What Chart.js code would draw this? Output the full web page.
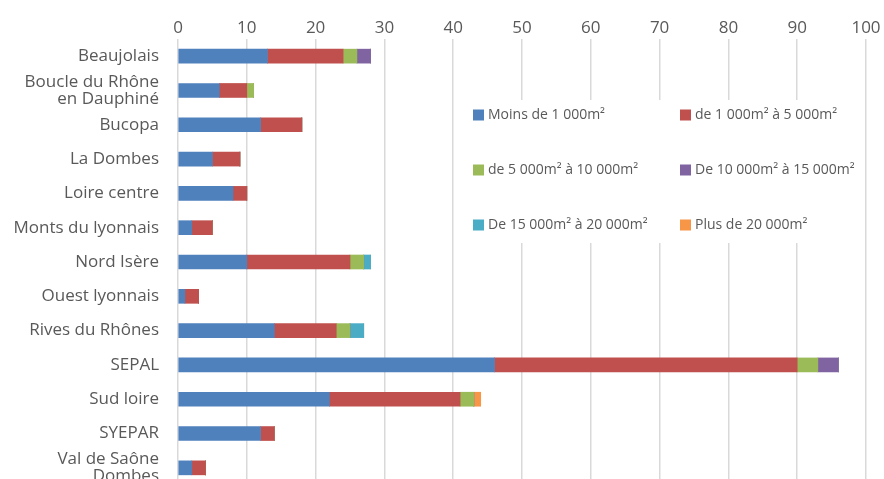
<!DOCTYPE html>
<html>
<head>
<meta charset="utf-8">
<script src="https://cdn.jsdelivr.net/npm/chart.js@4"></script>
<style>
  html, body { margin: 0; padding: 0; background: #fff; overflow: hidden; }
  #wrap { width: 884px; height: 479px; overflow: hidden; }
</style>
</head>
<body>
<div id="wrap"><canvas id="chart" width="884" height="492"></canvas></div>
<script>
// syndicats / territoires
const categories = [
  'Beaujolais', ['Boucle du Rhône', 'en Dauphiné'], 'Bucopa', 'La Dombes', 'Loire centre',
  'Monts du lyonnais', 'Nord Isère', 'Ouest lyonnais', 'Rives du Rhônes', 'SEPAL',
  'Sud loire', 'SYEPAR', ['Val de Saône', 'Dombes']
];

const moins1000     = [13, 6, 12, 5, 8, 2, 10, 1, 14, 46, 22, 12, 2];
const de1000a5000   = [11, 4, 6, 4, 2, 3, 15, 2, 9, 44, 19, 2, 2];
const de5000a10000  = [2, 1, 0, 0, 0, 0, 2, 0, 2, 3, 2, 0, 0];
const de10000a15000 = [2, 0, 0, 0, 0, 0, 0, 0, 0, 3, 0, 0, 0];
const de15000a20000 = [0, 0, 0, 0, 0, 0, 1, 0, 2, 0, 0, 0, 0];
const plus20000     = [0, 0, 0, 0, 0, 0, 0, 0, 0, 0, 1, 0, 0];

const seriesLabels = [
  'Moins de 1 000m²', 'de 1 000m² à 5 000m²', 'de 5 000m² à 10 000m²',
  'De 10 000m² à 15 000m²', 'De 15 000m² à 20 000m²', 'Plus de 20 000m²'
];
const seriesColors = ['#4F81BD', '#C0504D', '#9BBB59', '#8064A2', '#4BACC6', '#F79646'];
const seriesData = [moins1000, de1000a5000, de5000a10000, de10000a15000, de15000a20000, plus20000];

const xTicks = [0, 10, 20, 30, 40, 50, 60, 70, 80, 90, 100];

Chart.defaults.font.family = "'Open Sans', sans-serif";
Chart.defaults.color = '#595959';

// legend drawn inside the plot area, Excel style, on a white box
const boxLegend = {
  id: 'boxLegend',
  afterDatasetsDraw(chart) {
    const ctx = chart.ctx;
    ctx.save();
    ctx.fillStyle = '#ffffff';
    ctx.fillRect(462, 100, 400, 143);
    const colX = [473, 680];
    const rowY = [115, 170, 225];
    ctx.font = "14px 'Open Sans', sans-serif";
    ctx.textBaseline = 'middle';
    chart.data.datasets.forEach((ds, i) => {
      const x = colX[i % 2];
      const y = rowY[Math.floor(i / 2)];
      ctx.fillStyle = ds.backgroundColor;
      ctx.fillRect(x, y - 5.5, 11, 11);
      ctx.fillStyle = '#595959';
      ctx.fillText(ds.label, x + 15, y);
    });
    ctx.restore();
  }
};

new Chart(document.getElementById('chart'), {
  type: 'bar',
  data: {
    labels: categories,
    datasets: seriesLabels.map((label, i) => ({
      label: label,
      data: seriesData[i],
      backgroundColor: seriesColors[i],
      borderWidth: 0,
      barThickness: 14
    }))
  },
  options: {
    indexAxis: 'y',
    responsive: false,
    animation: false,
    devicePixelRatio: 1,
    layout: { padding: { top: 0, right: 18, bottom: 7, left: 0 } },
    plugins: { legend: { display: false }, tooltip: { enabled: false } },
    scales: {
      x: {
        position: 'top',
        stacked: true,
        min: 0,
        max: 100,
        afterBuildTicks: (scale) => { scale.ticks = xTicks.map(v => ({ value: v })); },
        grid: { color: '#d9d9d9', lineWidth: 1.5, drawTicks: false },
        border: { display: false },
        ticks: { font: { size: 17 }, padding: 1 },
        afterFit: (scale) => { scale.height = 39; }
      },
      y: {
        stacked: true,
        grid: { display: false, drawTicks: false },
        border: { display: false },
        ticks: { font: { size: 17, lineHeight: 1 }, padding: 19, autoSkip: false },
        afterFit: (scale) => {
          scale.width = 178;
          scale.paddingTop = 0;
          scale.paddingBottom = 0;
        }
      }
    }
  },
  plugins: [boxLegend]
});
</script>
</body>
</html>
